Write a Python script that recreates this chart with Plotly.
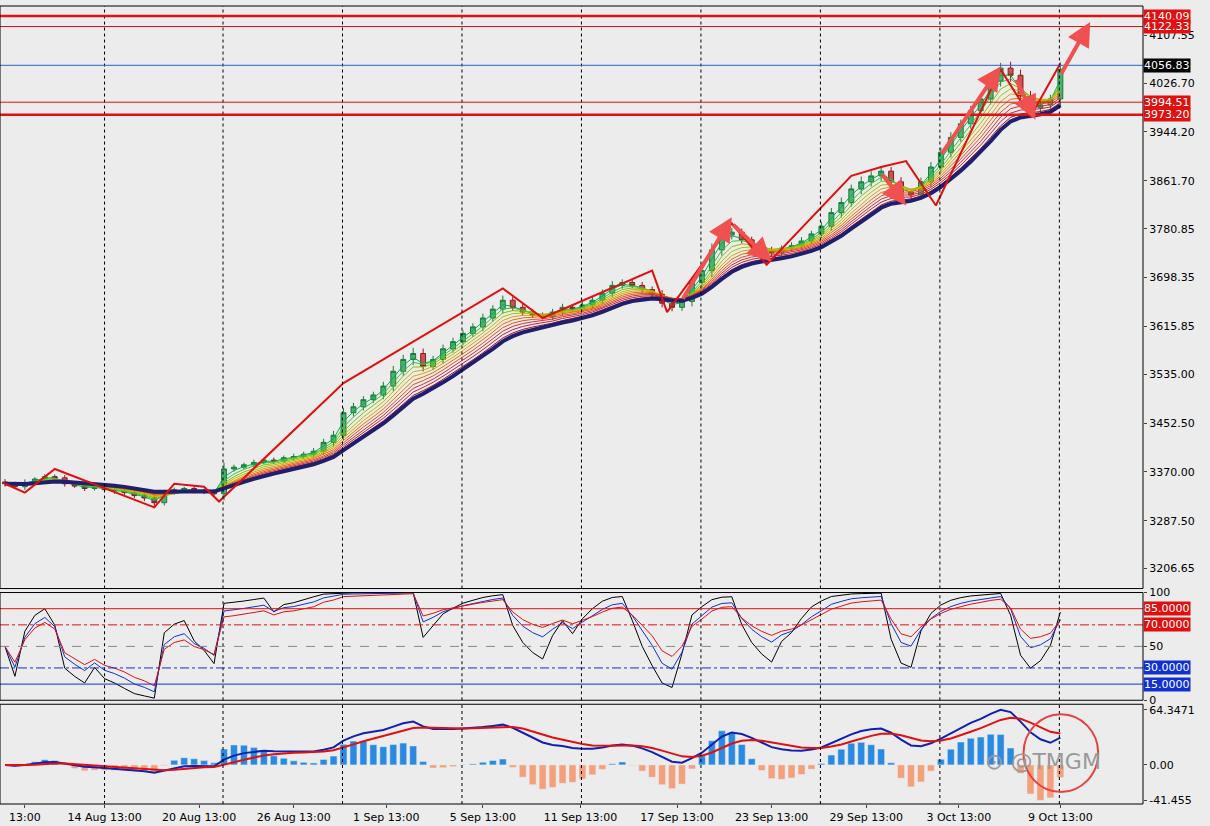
import plotly.graph_objects as go
import numpy as np

closes = [3350,3345,3352,3358,3362,3360,3350,3346,3342,3344,3340,3338,3335,3330,3326,3318,3335,3340,3342,3338,
          3336,3333,3375,3378,3382,3386,3390,3388,3394,3396,3400,3405,3420,3432,3470,3480,3492,3500,3515,3540,
          3560,3570,3548,3560,3578,3590,3604,3615,3630,3645,3660,3648,3640,3635,3632,3640,3648,3645,3652,3660,
          3672,3685,3690,3685,3678,3670,3655,3648,3658,3690,3710,3745,3770,3775,3762,3752,3745,3740,3748,3752,
          3760,3772,3785,3808,3825,3848,3860,3870,3878,3860,3842,3838,3860,3885,3910,3935,3958,3980,4000,4030,
          4052,4040,4005,3985,3990,4000,4050]
wicks = [8,6,9,5,7,6,8,5,7,6,5,8,6,7,9,10,8,6,5,7,6,8,18,7,6,8,5,7,6,8,7,9,10,12,14,11,10,9,12,15,
         13,16,14,10,12,11,9,10,12,11,13,10,9,8,7,9,10,8,9,11,10,12,9,8,10,9,12,11,10,14,15,18,16,12,10,9,8,9,8,10,
         11,9,12,13,14,12,15,13,14,12,13,11,12,14,13,15,12,14,13,16,15,18,16,14,13,12,20]
tick_pos = [2, 10, 19.5, 29, 38.3, 48, 57.8, 67.5, 77, 86.5, 95.8, 106]
tick_lbl = ["13:00","14 Aug 13:00","20 Aug 13:00","26 Aug 13:00","1 Sep 13:00","5 Sep 13:00","11 Sep 13:00",
            "17 Sep 13:00","23 Sep 13:00","29 Sep 13:00","3 Oct 13:00","9 Oct 13:00"]
grid_x = [10, 21.9, 33.9, 45.9, 57.9, 69.9, 81.9, 93.9, 105.9]
price_ticks = [4107.55,4026.70,3944.20,3861.70,3780.85,3698.35,3615.85,3535.00,3452.50,3370.00,3287.50,3206.65]
red_levels = [(4140.09, 2.5), (4122.33, 1), (3994.51, 1), (3973.20, 2.5)]
blue_level = 4056.83
zz_x = [0, 2, 5, 15, 17, 20, 21.5, 34, 50, 54, 65, 66.5, 70, 73, 76.5, 85, 88, 90.5, 93.5, 100, 103, 106]
zz_y = [3350, 3335, 3375, 3310, 3350, 3345, 3320, 3520, 3680, 3630, 3710, 3640, 3720, 3790, 3720, 3870, 3885, 3895, 3820, 4050, 3970, 4060]
arrows = [(68, 3660, 73, 3800), (73, 3790, 77, 3725), (88, 3875, 90.5, 3820), (94, 3905, 100, 4055),
          (101.5, 4035, 103.5, 3965), (106, 4040, 109, 4130)]

n = len(closes)
x = np.arange(n)
c = np.array(closes, float)
o = np.r_[c[0] + 3, c[:-1]]
w = np.array(wicks, float)
h = np.maximum(o, c) + w * 0.6
l = np.minimum(o, c) - w * 0.6

def ema(a, p):
    k = 2 / (p + 1); out = np.empty_like(a); out[0] = a[0]
    for i in range(1, len(a)): out[i] = a[i] * k + out[i-1] * (1 - k)
    return out

def rsi(a, p):
    d = np.diff(a, prepend=a[0]); g = np.clip(d, 0, None); ls = np.clip(-d, 0, None)
    g[0] = ls[0] = 1.0
    ag = ema(g, 2*p-1); al = ema(ls, 2*p-1)
    return 100 - 100 / (1 + ag / np.maximum(al, 1e-9))

fig = go.Figure()
colors = ["#00b050","#40c040","#80c000","#b0c000","#e0a000","#e07000","#e05020","#d03030","#c02040","#a01030"]
for i, p in enumerate(range(2, 12)):
    fig.add_trace(go.Scatter(x=x, y=ema(c, p), mode="lines", line=dict(color=colors[i], width=1), yaxis="y", hoverinfo="skip"))
fig.add_trace(go.Scatter(x=x, y=ema(c, 12), mode="lines", line=dict(color="#1f1f6e", width=4), yaxis="y"))
fig.add_trace(go.Candlestick(x=x, open=o, high=h, low=l, close=c, yaxis="y",
    increasing=dict(line=dict(color="#1a7a3a", width=1), fillcolor="#4fb070"),
    decreasing=dict(line=dict(color="#8a1a1a", width=1), fillcolor="#d05050")))
fig.add_trace(go.Scatter(x=zz_x, y=zz_y, mode="lines", line=dict(color="#e01010", width=2), yaxis="y"))

for p, col in [(3, "black"), (5, "#1030d0"), (7, "#e01010")]:
    fig.add_trace(go.Scatter(x=x, y=rsi(c, p), mode="lines", line=dict(color=col, width=1), yaxis="y2"))

m = ema(c, 5) - ema(c, 13)
sig = ema(m, 6)
hist = m - sig
hist2 = hist * 3
fig.add_trace(go.Bar(x=x, y=hist2, marker_color=["#2a8ae0" if v >= 0 else "#f4a07a" for v in hist2], yaxis="y3", width=0.7))
fig.add_trace(go.Scatter(x=x, y=m, mode="lines", line=dict(color="#1020b0", width=2), yaxis="y3"))
fig.add_trace(go.Scatter(x=x, y=sig, mode="lines", line=dict(color="#e01010", width=2), yaxis="y3"))
mn = min(hist2.min(), m.min(), -5); mx = max(m.max(), sig.max(), hist2.max())

shapes = []
for gx in grid_x:
    for yr in ["y", "y2", "y3"]:
        shapes.append(dict(type="line", xref="x", yref=f"{yr} domain", x0=gx, x1=gx, y0=0, y1=1,
                           line=dict(color="black", width=1, dash="dot")))
for val, wd in red_levels:
    shapes.append(dict(type="line", xref="paper", yref="y", x0=0, x1=1, y0=val, y1=val, line=dict(color="#e01010", width=wd)))
shapes.append(dict(type="line", xref="paper", yref="y", x0=0, x1=1, y0=blue_level, y1=blue_level, line=dict(color="#3060d0", width=1)))
for val, col, dash in [(85, "#e01010", "solid"), (70, "#e01010", "dashdot"), (50, "#888", "dash"), (30, "#1030d0", "dashdot"), (15, "#1030d0", "solid")]:
    shapes.append(dict(type="line", xref="paper", yref="y2", x0=0, x1=1, y0=val, y1=val, line=dict(color=col, width=1, dash=dash)))
shapes.append(dict(type="circle", xref="x", yref="y3 domain", x0=102.3, x1=109.8, y0=0.12, y1=0.9, line=dict(color="#e84040", width=2)))
for yr in ["y", "y2", "y3"]:
    shapes.append(dict(type="rect", xref="paper", yref=f"{yr} domain", x0=0, x1=1, y0=0, y1=1, line=dict(color="black", width=1)))

ann = []
for ax0, ay0, ax1, ay1 in arrows:
    ann.append(dict(x=ax1, y=ay1, ax=ax0, ay=ay0, xref="x", yref="y", axref="x", ayref="y", showarrow=True,
                    arrowhead=2, arrowsize=1.2, arrowwidth=4, arrowcolor="#f05050", text=""))
for val, wd in red_levels:
    ann.append(dict(x=1, xref="paper", xanchor="left", y=val, yref="y", text=f"{val:.2f}", showarrow=False,
                    bgcolor="#e01010", font=dict(color="white", size=11), borderpad=0))
ann.append(dict(x=1, xref="paper", xanchor="left", y=blue_level, yref="y", text=f"{blue_level:.2f}", showarrow=False,
                bgcolor="black", font=dict(color="white", size=11), borderpad=0))
for val, bg in [(85, "#e01010"), (70, "#e01010"), (30, "#1030d0"), (15, "#1030d0")]:
    ann.append(dict(x=1, xref="paper", xanchor="left", y=val, yref="y2", text=f"{val:.4f}", showarrow=False,
                    bgcolor=bg, font=dict(color="white", size=11), borderpad=0))
ann.append(dict(x=0.965, xref="paper", y=0.035, yref="paper", text="⊙ @TMGM", showarrow=False,
                font=dict(color="#999", size=22)))

fig.update_layout(
    width=1210, height=826, margin=dict(l=0, r=67, t=0, b=22),
    paper_bgcolor="#ececec", plot_bgcolor="#ececec", showlegend=False, bargap=0.2,
    font=dict(family="DejaVu Sans", size=11, color="black"),
    xaxis=dict(range=[-0.5, 114.3], tickvals=tick_pos, ticktext=tick_lbl, showgrid=False, zeroline=False,
               rangeslider=dict(visible=False), ticks="outside", ticklen=3, anchor="y3"),
    yaxis=dict(domain=[0.27, 1], range=[3173, 4157], side="right", tickvals=price_ticks,
               tickformat=".2f", showgrid=False, ticks="outside", ticklen=3, zeroline=False),
    yaxis2=dict(domain=[0.13, 0.265], range=[0, 100], side="right", tickvals=[0, 50, 100], showgrid=False,
                ticks="outside", ticklen=3, zeroline=False, anchor="x"),
    yaxis3=dict(domain=[0, 0.125], range=[mn*1.1, mx*1.1], side="right", tickvals=[mn, 0, mx],
                ticktext=[f"{mn:.3f}", "0.00", f"{mx:.4f}"], showgrid=False, ticks="outside", ticklen=3, zeroline=False, anchor="x"),
    shapes=shapes, annotations=ann,
)
fig.write_html("out.html", config={"displayModeBar": False},
               post_script="document.body.style.margin='0';document.body.style.overflow='hidden';")
